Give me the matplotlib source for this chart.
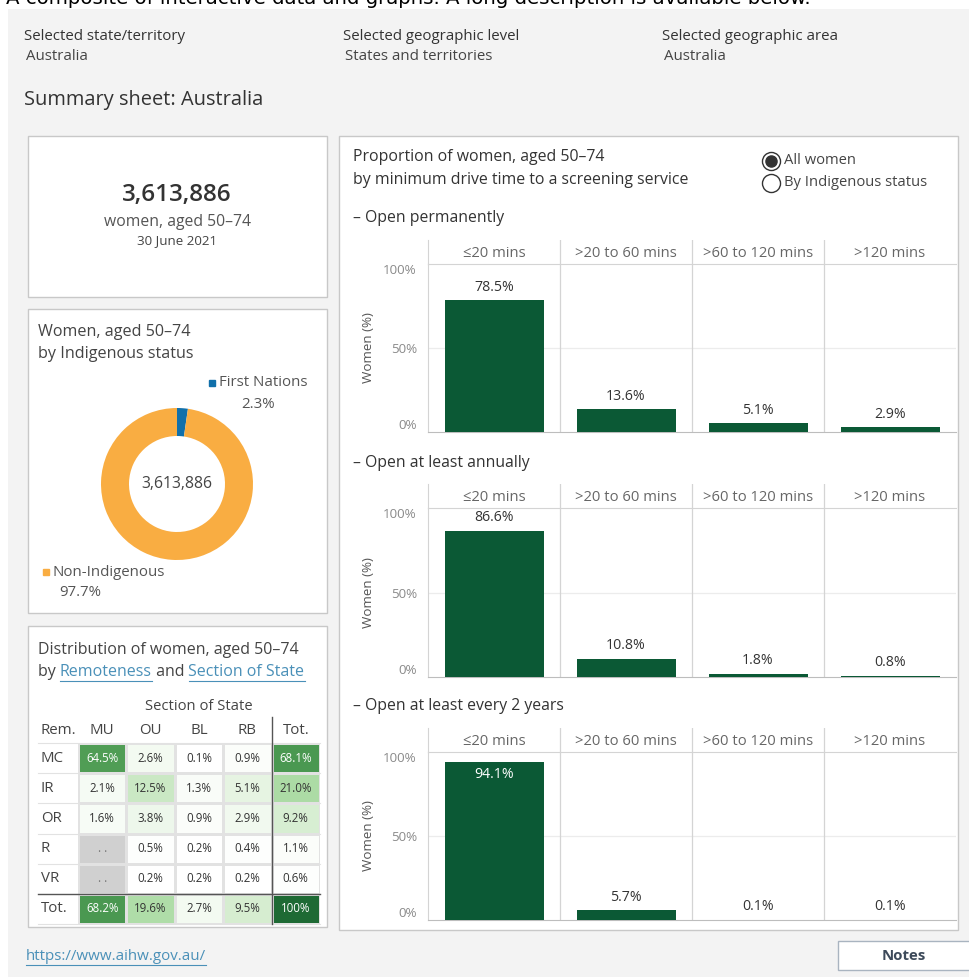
import numpy as np
import matplotlib
matplotlib.use("Agg")
import matplotlib.pyplot as plt
from matplotlib.patches import Rectangle
from matplotlib.colors import LinearSegmentedColormap, Normalize
from matplotlib.lines import Line2D
from matplotlib.transforms import blended_transform_factory

# ---------------- data ----------------
total_women = 3613886
indigenous_labels = ["First Nations", "Non-Indigenous"]
indigenous_share = [2.3, 97.7]

drive_bins = ["≤20 mins", ">20 to 60 mins", ">60 to 120 mins", ">120 mins"]
open_permanently = [78.5, 13.6, 5.1, 2.9]
open_annually = [86.6, 10.8, 1.8, 0.8]
open_every_2_years = [94.1, 5.7, 0.1, 0.1]
panel_titles = ["– Open permanently", "– Open at least annually", "– Open at least every 2 years"]

remoteness = ["MC", "IR", "OR", "R", "VR", "Tot."]
section_of_state = ["MU", "OU", "BL", "RB", "Tot."]
dist_mc = [64.5, 2.6, 0.1, 0.9, 68.1]
dist_ir = [2.1, 12.5, 1.3, 5.1, 21.0]
dist_or = [1.6, 3.8, 0.9, 2.9, 9.2]
dist_r = [np.nan, 0.5, 0.2, 0.4, 1.1]
dist_vr = [np.nan, 0.2, 0.2, 0.2, 0.6]
dist_tot = [68.2, 19.6, 2.7, 9.5, 100.0]

# ---------------- setup ----------------
plt.rcParams["font.family"] = ["Open Sans", "DejaVu Sans"]
W, H = 969, 977
fig = plt.figure(figsize=(W / 100, H / 100), dpi=100)
fig.patch.set_facecolor("white")

def fx(x):
    return x / W

def fy(y):
    return 1 - y / H

def txt(x, y, s, **kw):
    kw.setdefault("va", "center")
    kw.setdefault("color", "#333333")
    return fig.text(fx(x), fy(y), s, **kw)

def rect(x0, y0, x1, y1, fc, ec="none", lw=1.0, z=-10):
    r = Rectangle((fx(x0), fy(y1)), (x1 - x0) / W, (y1 - y0) / H,
                  transform=fig.transFigure, fc=fc, ec=ec, lw=lw, zorder=z)
    fig.patches.append(r)
    return r

def axes_px(x0, y0, x1, y1):
    a = fig.add_axes([fx(x0), fy(y1), (x1 - x0) / W, (y1 - y0) / H])
    a.patch.set_alpha(0)
    return a

GREY_BG = "#f3f3f3"
BORDER = "#c8c8c8"

# background
rect(8, 9, 975, 985, GREY_BG, z=-20)
fig.text(fx(6), fy(4.5), "A composite of interactive data and graphs. A long description is available below.",
         fontsize=14.2, color="black", va="baseline", family="DejaVu Sans")

# header
for x, lab, val in [(24, "Selected state/territory", "Australia"),
                    (343, "Selected geographic level", "States and territories"),
                    (662, "Selected geographic area", "Australia")]:
    txt(x, 36, lab, fontsize=10.8, color="#333333")
    txt(x + 2, 56, val, fontsize=10.8, color="#444444")
txt(24, 100, "Summary sheet: Australia", fontsize=14.4, color="#333333")

# boxes
rect(28, 136, 327, 297, "white", BORDER)
rect(28, 309, 327, 613, "white", BORDER)
rect(28, 626, 327, 927, "white", BORDER)
rect(339, 136, 958, 930, "white", BORDER)

# ---------------- box 1: KPI ----------------
txt(177, 195, f"{total_women:,}", fontsize=17.5, ha="center", color="#333333", fontweight="semibold")
txt(177, 222, "women, aged 50–74", fontsize=11.3, ha="center", color="#555555")
txt(177, 241, "30 June 2021", fontsize=9.6, ha="center", color="#444444")

# ---------------- box 2: donut ----------------
txt(38, 332, "Women, aged 50–74", fontsize=11.6, color="#444444")
txt(38, 354, "by Indigenous status", fontsize=11.6, color="#444444")
donut_colors = ["#1170aa", "#f9ad42"]
axd = axes_px(97, 404, 257, 564)
axd.pie(indigenous_share, radius=0.95, startangle=90, counterclock=False,
        colors=donut_colors, wedgeprops=dict(width=0.35, linewidth=0))
axd.set_xlim(-1, 1)
axd.set_ylim(-1, 1)
axd.set_aspect("equal")
axd.axis("off")
axd.text(0, 0, f"{total_women:,}", ha="center", va="center", fontsize=11.3, color="#444444")

legend_pos = [((212, 383), (258, 404)), ((46, 572), (80, 592))]
for (lab, share, col, ((sx, sy), (px, py))) in zip(indigenous_labels, indigenous_share, donut_colors, legend_pos):
    fig.add_artist(Line2D([fx(sx)], [fy(sy)], marker="s", markersize=5, color=col,
                          transform=fig.transFigure, linestyle="none"))
    txt(sx + 7, sy, lab, fontsize=10.8, color="#555555")
    txt(px, py, f"{share}%", fontsize=10.8, color="#555555", ha="center")

# ---------------- box 3: heatmap ----------------
txt(38, 650, "Distribution of women, aged 50–74", fontsize=11.5, color="#444444")
link_col = "#4a90b8"
fig.canvas.draw()
renderer = fig.canvas.get_renderer()
x_cur = 38
for part, is_link in [("by ", False), ("Remoteness", True), (" and ", False), ("Section of State", True)]:
    t = txt(x_cur, 672, part, fontsize=11.5, color=link_col if is_link else "#444444")
    bb = t.get_window_extent(renderer)
    w_px = bb.width
    if is_link:
        fig.add_artist(Line2D([fx(x_cur), fx(x_cur + w_px)], [fy(681), fy(681)],
                              color=link_col, lw=0.8, transform=fig.transFigure))
    x_cur += w_px

dist = np.array([dist_mc, dist_ir, dist_or, dist_r, dist_vr, dist_tot])
cmap = LinearSegmentedColormap.from_list(
    "tabgreens", [(0, "#ffffff"), (0.05, "#e6f4e2"), (0.2, "#aedca6"), (0.65, "#4f9d54"), (1.0, "#1e6a34")])
cmap.set_bad("#d0d0d0")
axh = axes_px(78, 743, 320, 924)
axh.pcolormesh(np.ma.masked_invalid(dist), cmap=cmap, norm=Normalize(0, 100),
               edgecolors="#e2e2e2", linewidth=0.8)
axh.set_xlim(0, dist.shape[1])
axh.set_ylim(dist.shape[0], 0)
axh.axis("off")
for i in range(dist.shape[0]):
    for j in range(dist.shape[1]):
        v = dist[i, j]
        if np.isnan(v):
            s = ". ."
        elif v >= 100:
            s = "100%"
        else:
            s = f"{v:.1f}%"
        c = "white" if (not np.isnan(v) and v >= 60) else "#333333"
        if np.isnan(v):
            c = "#777777"
        axh.text(j + 0.5, i + 0.5, s, ha="center", va="center", fontsize=8.3, color=c)
bt = blended_transform_factory(fig.transFigure, axh.transData)
for i, r in enumerate(remoteness):
    axh.text(fx(41), i + 0.5, r, transform=bt, ha="left", va="center", fontsize=10.8, color="#444444")
axh.text(fx(41), -0.42, "Rem.", transform=bt, ha="left", va="center", fontsize=10.8, color="#444444")
for j, s in enumerate(section_of_state):
    axh.text(j + 0.5, -0.42, s, ha="center", va="center", fontsize=10.8, color="#444444")
axh.text(dist.shape[1] / 2, -1.22, "Section of State", ha="center", va="center", fontsize=10.6, color="#444444")
xl = (38 - 78) / (242 / 5)
for k in range(dist.shape[0] + 1):
    if k == 5:
        continue
    axh.plot([xl, dist.shape[1]], [k, k], color="#e2e2e2", lw=0.8, clip_on=False, zorder=0)
axh.plot([xl, dist.shape[1]], [5, 5], color="#555555", lw=1.0, clip_on=False, zorder=5)
axh.plot([4, 4], [-0.87, dist.shape[0]], color="#555555", lw=1.0, clip_on=False, zorder=5)

# ---------------- right box: bar panels ----------------
txt(353, 157, "Proportion of women, aged 50–74", fontsize=11.4, color="#333333")
txt(353, 180, "by minimum drive time to a screening service", fontsize=11.4, color="#333333")
fig.add_artist(Line2D([fx(771)], [fy(161)], marker="o", markersize=13, mfc="white", mec="#333333",
                      mew=1.0, transform=fig.transFigure, linestyle="none"))
fig.add_artist(Line2D([fx(771)], [fy(161)], marker="o", markersize=8, mfc="#333333", mec="#333333",
                      transform=fig.transFigure, linestyle="none"))
fig.add_artist(Line2D([fx(771)], [fy(183)], marker="o", markersize=13, mfc="white", mec="#333333",
                      mew=1.0, transform=fig.transFigure, linestyle="none"))
txt(784, 161, "All women", fontsize=10.6, color="#444444")
txt(784, 183, "By Indigenous status", fontsize=10.6, color="#444444")

BAR = "#0b5935"
panels = [
    (panel_titles[0], open_permanently, 218, 240, 264, 432),
    (panel_titles[1], open_annually, 463, 484, 508, 677),
    (panel_titles[2], open_every_2_years, 706, 728, 752, 920),
]
X0, X1 = 428, 956
n = len(drive_bins)
for title, vals, ty, htop, ptop, pbot in panels:
    txt(353, ty, title, fontsize=11.3, color="#333333")
    # header strip
    axhd = axes_px(X0, htop, X1, ptop)
    axhd.set_xlim(-0.5, n - 0.5)
    axhd.set_ylim(0, 1)
    axhd.set_xticks([])
    axhd.set_yticks([])
    for sp in ["top", "right"]:
        axhd.spines[sp].set_visible(False)
    for sp in ["left", "bottom"]:
        axhd.spines[sp].set_color("#d4d4d4")
    for k in range(1, n):
        axhd.axvline(k - 0.5, color="#d4d4d4", lw=0.9)
    for k, lab in enumerate(drive_bins):
        axhd.text(k, 0.45, lab, ha="center", va="center", fontsize=10.6, color="#666666")
    # plot
    ax = axes_px(X0, ptop, X1, pbot)
    ax.set_xlim(-0.5, n - 0.5)
    ax.set_ylim(0, 100)
    ax.bar(range(n), vals, width=0.75, color=BAR, zorder=3)
    ax.axhline(50, color="#ececec", lw=0.9, zorder=1)
    for k in range(1, n):
        ax.axvline(k - 0.5, color="#d4d4d4", lw=0.9, zorder=2)
    for sp in ["top", "right"]:
        ax.spines[sp].set_visible(False)
    ax.spines["left"].set_color("#d4d4d4")
    ax.spines["bottom"].set_color("#bdbdbd")
    ax.set_xticks([])
    ax.set_yticks([0, 50, 100])
    ax.set_yticklabels(["0%", "50%", "100%"])
    ax.tick_params(axis="y", length=0, labelsize=9.6, labelcolor="#8a8a8a", pad=8)
    tl = ax.get_yticklabels()
    tl[0].set_va("bottom")
    tl[2].set_va("top")
    ax.set_ylabel("Women (%)", fontsize=9.6, color="#555555")
    ax.yaxis.set_label_coords((375 - X0) / (X1 - X0), 0.5)
    for k, v in enumerate(vals):
        if v > 90:
            ax.annotate(f"{v}%", (k, v), xytext=(0, -4), textcoords="offset points",
                        ha="center", va="top", fontsize=10.2, color="white", zorder=4)
        else:
            ax.annotate(f"{v}%", (k, v), xytext=(0, 4), textcoords="offset points",
                        ha="center", va="bottom", fontsize=10.2, color="#333333", zorder=4)

# ---------------- footer ----------------
t = txt(26, 956, "https://www.aihw.gov.au/", fontsize=10.9, color=link_col)
bb = t.get_window_extent(renderer)
fig.add_artist(Line2D([fx(26), fx(26 + bb.width)], [fy(965), fy(965)], color=link_col, lw=0.8,
                      transform=fig.transFigure))
rect(838, 941, 980, 970, "white", "#a9b4c0")
txt(904, 956, "Notes", fontsize=10.8, ha="center", color="#3d4a5a", fontweight="bold")

fig.savefig("out.png", dpi=100)
